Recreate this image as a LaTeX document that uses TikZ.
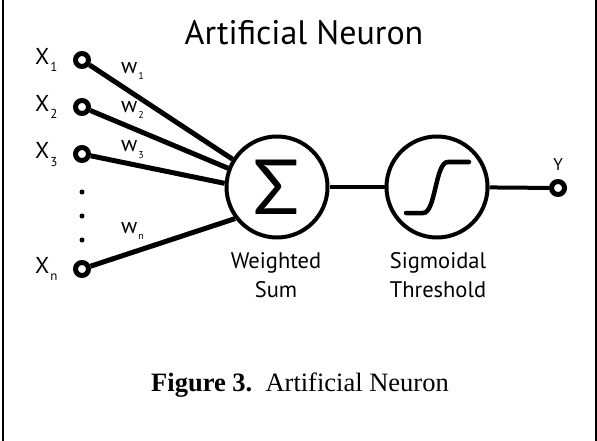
\documentclass[tikz,border=0pt]{standalone}
\usepackage{fontspec}
\setmainfont{Liberation Serif}
\newfontfamily\diagfont{PT Sans}
\newfontfamily\greekfont{Lato}
\newcommand\xsub[1]{\kern1pt\raisebox{-7pt}{\fontsize{13}{13}\selectfont #1}}
\newcommand\wsub[1]{\kern1pt\raisebox{-6pt}{\fontsize{10}{10}\selectfont #1}}
\begin{document}
\begin{tikzpicture}[x=1pt,y=-1pt,
  port/.style={circle,draw,line width=5pt,minimum size=13pt,inner sep=0pt,fill=white},
  unit/.style={circle,draw,line width=4pt,minimum size=101pt,inner sep=0pt},
  inline/.style={line width=5pt},
  link/.style={line width=4pt},
  dotmark/.style={circle,fill,minimum size=5pt,inner sep=0pt},
  xlab/.style={anchor=base west,inner sep=0pt,font=\diagfont\fontsize{23}{23}\selectfont},
  wlab/.style={anchor=base west,inner sep=0pt,font=\diagfont\fontsize{22}{22}\selectfont},
  unitlab/.style={anchor=base,inner sep=0pt,align=center,font=\diagfont\fontsize{22.5}{29}\selectfont},
  sigcurve/.style={line width=4.5pt,line cap=round},
  border/.style={line width=2pt}
]
\useasboundingbox (0,0) rectangle (597,441);
\draw[border] (3,0) -- (3,441);
\draw[border] (596,0) -- (596,441);

% title
\node[anchor=base,inner sep=0pt,font=\diagfont\fontsize{34}{34}\selectfont] (title) at (304,45) {Artificial Neuron};

% units
\node[unit,font=\greekfont\fontsize{76}{76}\selectfont] (sum) at (277,187) {Σ};
\node[unit] (sig) at (437,187) {};
\node[port] (y) at (558,188) {};

% inputs
\node[port] (x1) at (82,60) {};
\node[port] (x2) at (82,107) {};
\node[port] (x3) at (82,154) {};
\node[port] (xn) at (82,269) {};
\node[dotmark] (d1) at (82,192) {};
\node[dotmark] (d2) at (82,216) {};
\node[dotmark] (d3) at (82,240) {};

% input labels
\node[xlab] (lx1) at (35,65) {X\xsub{1}};
\node[xlab] (lx2) at (35,112) {X\xsub{2}};
\node[xlab] (lx3) at (35,159) {X\xsub{3}};
\node[xlab] (lxn) at (35,273) {X\xsub{n}};

% weight labels
\node[wlab] (w1) at (121,74) {w\wsub{1}};
\node[wlab] (w2) at (121,113) {w\wsub{2}};
\node[wlab] (w3) at (121,152) {w\wsub{3}};
\node[wlab] (wn) at (121,233) {w\wsub{n}};

% connectors
\draw[inline] (x1) -- (sum.148);
\draw[inline] (x2) -- (sum.159);
\draw[inline] (x3) -- (sum.176);
\draw[inline] (xn) -- (sum.217);
\draw[link] (sum) -- (sig);
\draw[link] (sig) -- (y);

% sigmoid curve
\draw[sigcurve] ([shift={(-31,26)}]sig.center) -- ++(17,0)
  .. controls +(13,0) and +(-13,0) .. ++(25,-51) -- ++(21,0);

% unit labels
\node[unitlab] (lsum) at (276,297) {Weighted\\Sum};
\node[unitlab] (lsig) at (438,297) {Sigmoidal\\Threshold};
\node[anchor=base,inner sep=0pt,font=\diagfont\fontsize{17}{17}\selectfont] (ly) at (558,170) {Y};

% caption
\node[anchor=base,inner sep=0pt,font=\rmfamily\fontsize{26.5}{26.5}\selectfont] (caption) at (300,391) {\textbf{Figure 3.}\hspace{0.5em}Artificial Neuron};
\end{tikzpicture}
\end{document}
